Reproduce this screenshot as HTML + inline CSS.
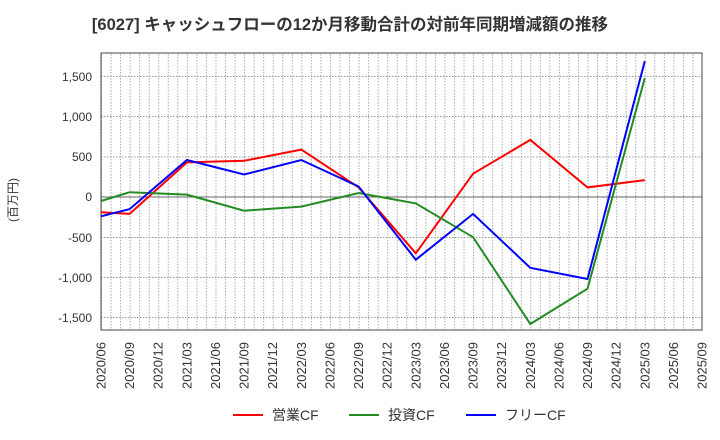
<!DOCTYPE html>
<html><head><meta charset="utf-8"><style>
body{margin:0;background:#fff}
svg{display:block;font-family:"Liberation Sans","Noto Sans CJK JP",sans-serif}
</style></head><body>
<svg width="720" height="440" viewBox="0 0 720 440" xmlns="http://www.w3.org/2000/svg">
<defs>
<pattern id="vg" x="101" y="0" width="9.540" height="440" patternUnits="userSpaceOnUse">
<line x1="0.5" y1="0" x2="0.5" y2="440" stroke="#aaa" stroke-width="1" stroke-dasharray="1.5,1.5"/>
</pattern>
</defs>
<text x="350" y="30" text-anchor="middle" font-size="16.5" font-weight="bold" fill="#333">[6027]  キャッシュフローの12か月移動合計の対前年同期増減額の推移</text>
<rect x="101" y="53" width="601" height="277" fill="url(#vg)"/>
<g stroke="#999" stroke-dasharray="1.5,1.5" stroke-width="1">
<line x1="101" x2="702" y1="76.5" y2="76.5"/>
<line x1="101" x2="702" y1="116.5" y2="116.5"/>
<line x1="101" x2="702" y1="157" y2="157"/>
<line x1="101" x2="702" y1="237.5" y2="237.5"/>
<line x1="101" x2="702" y1="277.5" y2="277.5"/>
<line x1="101" x2="702" y1="317.5" y2="317.5"/>
</g>
<line x1="101" x2="702" y1="197" y2="197" stroke="#666" stroke-width="1"/>
<rect x="101" y="53" width="601" height="277" fill="none" stroke="#444" stroke-width="1"/>
<g font-size="12" fill="#333" text-anchor="end">
<text x="92" y="81">1,500</text>
<text x="92" y="121">1,000</text>
<text x="92" y="161">500</text>
<text x="92" y="201">0</text>
<text x="92" y="242">-500</text>
<text x="92" y="282">-1,000</text>
<text x="92" y="322">-1,500</text>
</g>
<text transform="translate(17,200) rotate(-90)" font-size="12" fill="#333" text-anchor="middle">(百万円)</text>
<g font-size="13" fill="#333" text-anchor="end">
<text transform="translate(105.5,342) rotate(-90)">2020/06</text>
<text transform="translate(134.1,342) rotate(-90)">2020/09</text>
<text transform="translate(162.7,342) rotate(-90)">2020/12</text>
<text transform="translate(191.4,342) rotate(-90)">2021/03</text>
<text transform="translate(220,342) rotate(-90)">2021/06</text>
<text transform="translate(248.6,342) rotate(-90)">2021/09</text>
<text transform="translate(277.2,342) rotate(-90)">2021/12</text>
<text transform="translate(305.8,342) rotate(-90)">2022/03</text>
<text transform="translate(334.5,342) rotate(-90)">2022/06</text>
<text transform="translate(363.1,342) rotate(-90)">2022/09</text>
<text transform="translate(391.7,342) rotate(-90)">2022/12</text>
<text transform="translate(420.3,342) rotate(-90)">2023/03</text>
<text transform="translate(448.9,342) rotate(-90)">2023/06</text>
<text transform="translate(477.6,342) rotate(-90)">2023/09</text>
<text transform="translate(506.2,342) rotate(-90)">2023/12</text>
<text transform="translate(534.8,342) rotate(-90)">2024/03</text>
<text transform="translate(563.4,342) rotate(-90)">2024/06</text>
<text transform="translate(592,342) rotate(-90)">2024/09</text>
<text transform="translate(620.7,342) rotate(-90)">2024/12</text>
<text transform="translate(649.3,342) rotate(-90)">2025/03</text>
<text transform="translate(677.9,342) rotate(-90)">2025/06</text>
<text transform="translate(706.5,342) rotate(-90)">2025/09</text>
</g>
<g fill="none" stroke-width="2" stroke-linejoin="miter">
<polyline stroke="#ff0000" points="101,212.3 129.6,213.9 186.9,162.4 244.1,160.8 301.3,149.6 358.6,187.4 415.8,253.3 473.1,173.7 530.3,139.9 587.5,187.4 644.8,180.1"/>
<polyline stroke="#228b22" points="101,201 129.6,192.2 186.9,194.6 244.1,210.7 301.3,206.6 358.6,193 415.8,203.4 473.1,237.2 530.3,324 587.5,288.7 644.8,78"/>
<polyline stroke="#0000ff" points="101,216.3 129.6,209.1 186.9,160 244.1,174.5 301.3,160 358.6,186.5 415.8,259.7 473.1,213.9 530.3,267.8 587.5,279 644.8,61.1"/>
</g>
<g font-size="14" fill="#333">
<line x1="233" x2="263" y1="415" y2="415" stroke="#ff0000" stroke-width="2"/>
<text x="272" y="420">営業CF</text>
<line x1="349" x2="379" y1="415" y2="415" stroke="#228b22" stroke-width="2"/>
<text x="388" y="420">投資CF</text>
<line x1="466" x2="496" y1="415" y2="415" stroke="#0000ff" stroke-width="2"/>
<text x="505" y="420">フリーCF</text>
</g>
</svg>
</body></html>
